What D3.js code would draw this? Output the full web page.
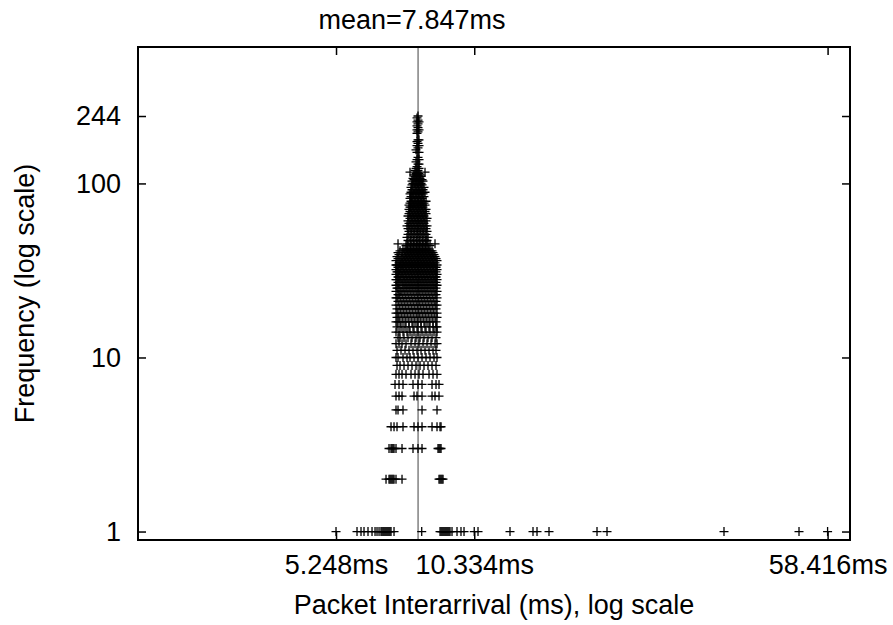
<!DOCTYPE html>
<html lang="en">
<head>
    <meta charset="UTF-8" />
    <title>Packet interarrival histogram</title>
    <script src="https://d3js.org/d3.v7.min.js"></script>
    <style>
        body { margin: 0; background: #fff; }
        text { font-family: "Liberation Sans", Arial, sans-serif; fill: #000; }
    </style>
</head>
<body>
    <div class="canvas"></div>

    <script>
        // tick labels / reference values
        const xTickValues = [5.248, 10.334, 58.416];
        const yTickValues = [1, 10, 100, 244];
        const meanInterval = 7.847;

        // frequency level (count) and the interarrival times (ms) seen with that count
        const frequencyLevels = [
            1, 2, 3, 4, 5, 6, 7, 8, 9, 10, 11, 12, 13, 14, 15, 16, 17, 18, 19, 20,
            21, 22, 23, 24, 25, 26, 27, 28, 29, 30, 31, 32, 33, 34, 35, 36, 37, 38, 39, 40,
            41, 42, 44, 45,
            47, 49, 51, 53, 55, 57, 59, 61, 63, 65, 67, 69, 71, 73, 75, 77,
            79, 82, 84, 87, 89, 92, 95, 98,
            100, 103, 105, 107, 110, 112, 114, 116, 119, 122, 125, 129,
            133, 137, 141, 151, 156, 160, 165, 170, 174, 178,
            194, 198, 203, 209, 214, 220, 226, 231, 238, 244
        ];
        const intervalsAtLevel = [
            // 1
            [5.248, 5.817, 5.932, 6.020, 6.139, 6.261, 6.354, 6.416, 6.480, 6.543, 6.575, 6.608, 6.640, 6.673, 6.706, 6.739, 6.772, 6.805, 6.838, 6.872, 6.974,
             7.988, 8.738, 8.781, 8.824, 8.867, 8.911, 8.955, 8.999, 9.043, 9.087, 9.132, 9.177, 9.267, 9.497, 9.684, 9.829,
             10.334, 10.527, 12.314, 13.784, 14.057, 14.909, 18.864, 19.812, 35.155, 50.78, 58.416],
            // 2 .. 7
            [6.706, 6.805, 6.838, 6.872, 6.906, 6.940, 6.974, 7.042, 7.253, 8.695, 8.738, 8.781, 8.824, 8.867],
            [6.805, 6.872, 6.906, 6.940, 6.974, 7.042, 7.253, 7.654, 7.844, 8.000, 8.652, 8.695, 8.738, 8.781],
            [6.872, 6.974, 7.077, 7.288, 7.692, 7.844, 8.000, 8.402, 8.610, 8.738, 8.781],
            [7.042, 7.112, 7.288, 8.000, 8.610],
            [7.042, 7.147, 7.253, 7.692, 7.806, 8.000, 8.402, 8.526, 8.695],
            [7.008, 7.147, 7.288, 7.654, 7.844, 8.000, 8.402, 8.568, 8.695],
            // 8 .. 15
            [7.042, 7.147, 7.253, 7.396, 7.580, 7.730, 7.883, 8.039, 8.279, 8.443, 8.610],
            [7.077, 7.182, 7.324, 7.469, 7.617, 7.768, 7.922, 8.078, 8.238, 8.402, 8.568],
            [7.042, 7.112, 7.288, 7.432, 7.543, 7.692, 7.844, 8.000, 8.158, 8.320, 8.484, 8.610],
            [7.077, 7.217, 7.360, 7.506, 7.654, 7.806, 7.961, 8.118, 8.279, 8.443, 8.568],
            [7.042, 7.147, 7.253, 7.396, 7.580, 7.730, 7.883, 8.039, 8.198, 8.361, 8.526, 8.610],
            [7.112, 7.182, 7.324, 7.469, 7.617, 7.768, 7.922, 8.078, 8.238, 8.402, 8.568],
            [7.042, 7.147, 7.288, 7.432, 7.543, 7.692, 7.844, 8.000, 8.158, 8.320, 8.484, 8.610],
            [7.077, 7.217, 7.360, 7.506, 7.654, 7.806, 7.961, 8.118, 8.279, 8.443, 8.568, 8.610],
            // 16 .. 30
            [7.042, 7.112, 7.182, 7.288, 7.396, 7.506, 7.617, 7.730, 7.844, 7.961, 8.078, 8.198, 8.320, 8.443, 8.568],
            [7.077, 7.147, 7.253, 7.360, 7.469, 7.580, 7.692, 7.806, 7.922, 8.039, 8.158, 8.279, 8.402, 8.526, 8.610],
            [7.042, 7.112, 7.217, 7.324, 7.432, 7.543, 7.654, 7.768, 7.883, 8.000, 8.118, 8.238, 8.361, 8.484, 8.610],
            [7.077, 7.182, 7.288, 7.396, 7.506, 7.617, 7.730, 7.844, 7.961, 8.078, 8.198, 8.320, 8.443, 8.568],
            [7.042, 7.147, 7.253, 7.360, 7.469, 7.580, 7.692, 7.806, 7.922, 8.039, 8.158, 8.279, 8.402, 8.526, 8.610],
            [7.112, 7.217, 7.324, 7.432, 7.543, 7.654, 7.768, 7.883, 8.000, 8.118, 8.238, 8.361, 8.484, 8.568],
            [7.042, 7.077, 7.182, 7.288, 7.396, 7.506, 7.617, 7.730, 7.844, 7.961, 8.078, 8.198, 8.320, 8.443, 8.610],
            [7.112, 7.147, 7.253, 7.360, 7.469, 7.580, 7.692, 7.806, 7.922, 8.039, 8.158, 8.279, 8.402, 8.526, 8.568],
            [7.042, 7.182, 7.217, 7.324, 7.432, 7.543, 7.654, 7.768, 7.883, 8.000, 8.118, 8.238, 8.361, 8.484, 8.610],
            [7.077, 7.112, 7.288, 7.396, 7.506, 7.617, 7.730, 7.844, 7.961, 8.078, 8.198, 8.320, 8.443, 8.568],
            [7.042, 7.147, 7.253, 7.360, 7.469, 7.580, 7.692, 7.806, 7.922, 8.039, 8.158, 8.279, 8.402, 8.526, 8.610],
            [7.112, 7.182, 7.324, 7.432, 7.543, 7.654, 7.768, 7.883, 8.000, 8.118, 8.238, 8.361, 8.484, 8.568],
            [7.042, 7.077, 7.217, 7.288, 7.396, 7.506, 7.617, 7.730, 7.844, 7.961, 8.078, 8.198, 8.320, 8.443, 8.610],
            [7.112, 7.147, 7.253, 7.360, 7.469, 7.580, 7.692, 7.806, 7.922, 8.039, 8.158, 8.279, 8.402, 8.526, 8.568],
            [7.042, 7.182, 7.324, 7.432, 7.543, 7.654, 7.768, 7.883, 8.000, 8.118, 8.238, 8.361, 8.484, 8.610],
            // 31 .. 45
            [7.077, 7.112, 7.217, 7.288, 7.396, 7.506, 7.617, 7.730, 7.844, 7.961, 8.078, 8.198, 8.320, 8.443, 8.568],
            [7.042, 7.147, 7.253, 7.360, 7.469, 7.580, 7.692, 7.806, 7.922, 8.039, 8.158, 8.279, 8.402, 8.526, 8.610],
            [7.112, 7.182, 7.324, 7.432, 7.543, 7.654, 7.768, 7.883, 8.000, 8.118, 8.238, 8.361, 8.484, 8.568],
            [7.042, 7.077, 7.217, 7.288, 7.396, 7.506, 7.617, 7.730, 7.844, 7.961, 8.078, 8.198, 8.320, 8.443, 8.610],
            [7.147, 7.253, 7.360, 7.469, 7.580, 7.692, 7.806, 7.922, 8.039, 8.158, 8.279, 8.402, 8.526],
            [7.042, 7.182, 7.324, 7.432, 7.543, 7.654, 7.768, 7.883, 8.000, 8.118, 8.238, 8.361, 8.484, 8.610],
            [7.112, 7.217, 7.288, 7.396, 7.506, 7.617, 7.730, 7.844, 7.961, 8.078, 8.198, 8.320, 8.443, 8.568],
            [7.077, 7.253, 7.360, 7.469, 7.580, 7.692, 7.806, 7.922, 8.039, 8.158, 8.279, 8.402, 8.526],
            [7.147, 7.324, 7.432, 7.543, 7.654, 7.768, 7.883, 8.000, 8.118, 8.238, 8.361, 8.484],
            [7.112, 7.253, 7.396, 7.506, 7.617, 7.730, 7.844, 7.961, 8.078, 8.198, 8.320, 8.443],
            [7.182, 7.360, 7.469, 7.580, 7.692, 7.806, 7.922, 8.039, 8.158, 8.279, 8.402],
            [7.288, 7.432, 7.543, 7.654, 7.768, 7.883, 8.000, 8.118, 8.238],
            [7.396, 7.469, 7.580, 7.692, 7.806, 7.922, 8.039, 8.158, 8.320],
            [7.112, 7.432, 7.543, 7.654, 7.768, 7.883, 8.000, 8.118, 8.238, 8.526],
            // 47 .. 77
            [7.469, 7.580, 7.692, 7.806, 7.922, 8.039, 8.158, 8.198],
            [7.432, 7.543, 7.654, 7.768, 7.883, 8.000, 8.118, 8.238],
            [7.469, 7.580, 7.692, 7.806, 7.922, 8.039, 8.158],
            [7.506, 7.617, 7.730, 7.844, 7.961, 8.078, 8.198],
            [7.469, 7.580, 7.692, 7.806, 7.922, 8.039, 8.158],
            [7.432, 7.543, 7.654, 7.768, 7.883, 8.000, 8.118, 8.198],
            [7.506, 7.617, 7.730, 7.844, 7.961, 8.078],
            [7.469, 7.580, 7.692, 7.806, 7.922, 8.039, 8.158],
            [7.543, 7.654, 7.768, 7.883, 8.000, 8.118, 8.198],
            [7.469, 7.617, 7.730, 7.844, 7.961, 8.078],
            [7.506, 7.580, 7.692, 7.806, 7.922, 8.039, 8.158],
            [7.543, 7.654, 7.768, 7.883, 8.000, 8.118],
            [7.506, 7.617, 7.730, 7.844, 7.961, 8.078, 8.158],
            [7.543, 7.580, 7.692, 7.806, 7.922, 8.039],
            [7.506, 7.654, 7.768, 7.883, 8.000, 8.118],
            [7.543, 7.617, 7.730, 7.844, 7.961, 8.078],
            // 79 .. 98
            [7.580, 7.692, 7.806, 7.922, 8.039, 8.158],
            [7.543, 7.654, 7.768, 7.883, 8.000],
            [7.580, 7.617, 7.730, 7.844, 7.961, 8.078],
            [7.543, 7.692, 7.806, 7.922, 8.039],
            [7.580, 7.654, 7.768, 7.883, 8.000, 8.118],
            [7.617, 7.730, 7.844, 7.961, 8.039],
            [7.580, 7.692, 7.806, 7.922, 8.078],
            [7.617, 7.768, 7.883, 8.000],
            // 100 .. 129
            [7.654, 7.730, 7.844, 7.961],
            [7.617, 7.806, 7.922, 8.039],
            [7.692, 7.883, 8.000],
            [7.654, 7.768, 7.922],
            [7.730, 7.844, 7.961],
            [7.692, 7.806, 7.922],
            [7.768, 7.883],
            [7.543, 7.806, 8.118],
            [7.730, 7.844],
            [7.768, 7.883],
            [7.806],
            [7.844, 7.883],
            // 133 .. 178
            [7.768],
            [7.806, 7.883],
            [7.844],
            [7.806, 7.883],
            [7.768],
            [7.844],
            [7.806, 7.883],
            [7.844],
            [7.806],
            [7.844, 7.883],
            // 194 .. 244
            [7.806],
            [7.844],
            [7.806, 7.883],
            [7.844],
            [7.806],
            [7.844],
            [7.806, 7.883],
            [7.844],
            [7.806],
            [7.844]
        ];

        const 전체넓이 = 893, 전체높이 = 625;
        const [좌, 우, 상, 하] = [138, 850, 47, 540];

        const svg = d3.select(".canvas").append("svg")
            .attr("width", 전체넓이)
            .attr("height", 전체높이);

        const x = d3.scaleLog().domain([1.988, 65.2]).range([좌, 우]);
        const y = d3.scaleLog().domain([0.894, 608]).range([하, 상]);

        // flatten to (interval, count) points
        const points = [];
        intervalsAtLevel.forEach((row, i) => {
            const f = frequencyLevels[i];
            if (f === undefined) return;
            row.forEach((ms) => points.push({ ms: ms, f: f }));
        });

        // mean line
        svg.append("line")
            .attr("x1", x(meanInterval)).attr("x2", x(meanInterval))
            .attr("y1", 상).attr("y2", 하)
            .attr("stroke", "#808080")
            .attr("stroke-width", 1.5);

        // + markers
        svg.append("g")
            .selectAll("path")
            .data(points)
            .enter()
            .append("path")
            .attr("transform", (d) => `translate(${x(d.ms)},${y(d.f)})`)
            .attr("d", "M-4.5,0H4.5M0,-4.5V4.5")
            .attr("stroke", "#000")
            .attr("stroke-width", 1.3)
            .attr("fill", "none");

        // axes (ticks point inward)
        const fmtMs = (d) => d3.format(".3f")(d) + "ms";
        const axisB = svg.append("g")
            .attr("transform", `translate(0,${하})`)
            .call(d3.axisBottom(x).tickValues(xTickValues).tickFormat(fmtMs)
                .tickSizeInner(-8).tickSizeOuter(0).tickPadding(15));
        const axisT = svg.append("g")
            .attr("transform", `translate(0,${상})`)
            .call(d3.axisTop(x).tickValues(xTickValues).tickFormat("")
                .tickSizeInner(-8).tickSizeOuter(0));
        const axisL = svg.append("g")
            .attr("transform", `translate(${좌},0)`)
            .call(d3.axisLeft(y).tickValues(yTickValues).tickFormat(d3.format("d"))
                .tickSizeInner(-8).tickSizeOuter(0).tickPadding(17));
        const axisR = svg.append("g")
            .attr("transform", `translate(${우},0)`)
            .call(d3.axisRight(y).tickValues(yTickValues).tickFormat("")
                .tickSizeInner(-8).tickSizeOuter(0));

        [axisB, axisT, axisL, axisR].forEach((g) => {
            g.select(".domain").remove();
            g.selectAll(".tick line").attr("stroke", "#000").attr("stroke-width", 1.5);
            g.selectAll(".tick text")
                .style("font-family", '"Liberation Sans", Arial, sans-serif')
                .style("font-size", "27px")
                .attr("fill", "#000");
        });

        // frame
        svg.append("rect")
            .attr("x", 좌).attr("y", 상)
            .attr("width", 우 - 좌).attr("height", 하 - 상)
            .attr("fill", "none")
            .attr("stroke", "#000")
            .attr("stroke-width", 2);

        // titles
        svg.append("text")
            .attr("x", 412).attr("y", 29)
            .attr("text-anchor", "middle")
            .style("font-size", "27px")
            .text("mean=" + meanInterval.toFixed(3) + "ms");

        svg.append("text")
            .attr("x", (좌 + 우) / 2).attr("y", 614)
            .attr("text-anchor", "middle")
            .style("font-size", "27px")
            .text("Packet Interarrival (ms), log scale");

        svg.append("text")
            .attr("transform", `translate(34,${(상 + 하) / 2}) rotate(-90)`)
            .attr("text-anchor", "middle")
            .style("font-size", "27px")
            .text("Frequency (log scale)");
    </script>
</body>
</html>
